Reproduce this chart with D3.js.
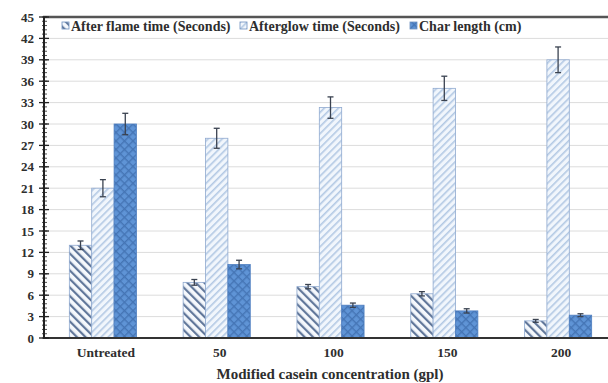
<!DOCTYPE html>
<html>
<head>
<meta charset="utf-8">
<script src="https://cdn.jsdelivr.net/npm/d3@7"></script>
<style>
  body { margin: 0; background: #fff; }
  text { font-family: "Liberation Serif", "Times New Roman", serif; font-weight: bold; fill: #2e2e2e; }
</style>
</head>
<body>
<div id="chart"></div>
<script>
const WIDTH = 608;
const HEIGHT = 383;

const categories = ['Untreated', '50', '100', '150', '200'];
const seriesNames = ['After flame time (Seconds)', 'Afterglow time (Seconds)', 'Char length (cm)'];
const afterFlame = [13, 7.8, 7.2, 6.2, 2.4];
const afterglow = [21, 28, 32.3, 35, 39];
const charLength = [30, 10.3, 4.6, 3.8, 3.2];
const afterFlameErr = [0.6, 0.4, 0.3, 0.3, 0.2];
const afterglowErr = [1.2, 1.4, 1.5, 1.7, 1.8];
const charLengthErr = [1.5, 0.6, 0.3, 0.3, 0.2];
const yTicks = d3.range(0, 46, 3);

const values = [afterFlame, afterglow, charLength];
const errors = [afterFlameErr, afterglowErr, charLengthErr];
const patternIds = ['pat-flame', 'pat-glow', 'pat-char'];

let svg = d3.select('#chart')
    .append('svg')
    .attr('width', WIDTH)
    .attr('height', HEIGHT);

// patterns
let defs = svg.append('defs');

let p1 = defs.append('pattern')
    .attr('id', 'pat-flame')
    .attr('patternUnits', 'userSpaceOnUse')
    .attr('width', 6).attr('height', 6)
    .attr('patternTransform', 'rotate(-45)');
p1.append('rect').attr('width', 6).attr('height', 6).attr('fill', '#f5f8fc');
p1.append('rect').attr('width', 2.2).attr('height', 6).attr('fill', '#61779a');

let p2 = defs.append('pattern')
    .attr('id', 'pat-glow')
    .attr('patternUnits', 'userSpaceOnUse')
    .attr('width', 5).attr('height', 5)
    .attr('patternTransform', 'rotate(45)');
p2.append('rect').attr('width', 5).attr('height', 5).attr('fill', '#f1f6fc');
p2.append('rect').attr('width', 1.6).attr('height', 5).attr('fill', '#b3c9e4');

let p3 = defs.append('pattern')
    .attr('id', 'pat-char')
    .attr('patternUnits', 'userSpaceOnUse')
    .attr('width', 6).attr('height', 6)
    .attr('patternTransform', 'rotate(45)');
p3.append('rect').attr('width', 6).attr('height', 6).attr('fill', '#5f94d6');
p3.append('rect').attr('width', 1.4).attr('height', 6).attr('fill', '#4575b5');
p3.append('rect').attr('width', 6).attr('height', 1.4).attr('fill', '#4575b5');

// scales
let x0 = d3.scaleBand()
    .domain(categories)
    .range([46, 615])
    .paddingInner(0.41)
    .paddingOuter(0.205);

let x1 = d3.scaleBand()
    .domain(d3.range(seriesNames.length))
    .range([0, x0.bandwidth()]);

let y = d3.scaleLinear().domain([0, 45]).range([338, 17]);

// grid
svg.append('g')
    .selectAll('line')
    .data(yTicks.filter(d => d > 0 && d < 45))
    .enter()
    .append('line')
    .attr('x1', 44).attr('x2', WIDTH)
    .attr('y1', d => y(d)).attr('y2', d => y(d))
    .attr('stroke', '#dcdcdc')
    .attr('stroke-width', 1);

// top border
svg.append('line')
    .attr('x1', 43).attr('x2', WIDTH)
    .attr('y1', y(45)).attr('y2', y(45))
    .attr('stroke', '#555')
    .attr('stroke-width', 2.5);

// bars
categories.forEach((c, i) => {
    let g = svg.append('g').attr('transform', `translate(${x0(c)},0)`);
    values.forEach((vals, s) => {
        let v = vals[i];
        let e = errors[s][i];
        let bx = x1(s);
        let bw = x1.bandwidth();
        g.append('rect')
            .attr('x', bx)
            .attr('y', y(v))
            .attr('width', bw)
            .attr('height', y(0) - y(v))
            .attr('fill', `url(#${patternIds[s]})`)
            .attr('stroke', s === 2 ? '#4f7fc0' : '#8fa9cf')
            .attr('stroke-width', 0.8);
        let cx = bx + bw / 2;
        g.append('line')
            .attr('x1', cx).attr('x2', cx)
            .attr('y1', y(v + e)).attr('y2', y(v - e))
            .attr('stroke', '#3a4250').attr('stroke-width', 1.3);
        [v + e, v - e].forEach(t => {
            g.append('line')
                .attr('x1', cx - 3).attr('x2', cx + 3)
                .attr('y1', y(t)).attr('y2', y(t))
                .attr('stroke', '#3a4250').attr('stroke-width', 1.3);
        });
    });
});

// x axis line
svg.append('line')
    .attr('x1', 43).attr('x2', WIDTH)
    .attr('y1', y(0)).attr('y2', y(0))
    .attr('stroke', '#333')
    .attr('stroke-width', 1.8);

// y axis with minor ticks
let yAxisG = svg.append('g');
yAxisG.append('line')
    .attr('x1', 44).attr('x2', 44)
    .attr('y1', y(45)).attr('y2', y(0))
    .attr('stroke', '#222').attr('stroke-width', 2);

yAxisG.selectAll('.minor')
    .data(d3.range(0, 45.01, 0.6))
    .enter()
    .append('line')
    .attr('x1', 42).attr('x2', 47)
    .attr('y1', d => y(d)).attr('y2', d => y(d))
    .attr('stroke', '#222').attr('stroke-width', 0.8);

yAxisG.selectAll('.major')
    .data(yTicks)
    .enter()
    .append('line')
    .attr('x1', 39).attr('x2', 49)
    .attr('y1', d => y(d)).attr('y2', d => y(d))
    .attr('stroke', '#222').attr('stroke-width', 1.3);

yAxisG.selectAll('text')
    .data(yTicks)
    .enter()
    .append('text')
    .attr('x', 34)
    .attr('y', d => y(d) + 4.5)
    .attr('text-anchor', 'end')
    .style('font-size', '13px')
    .text(d => d);

// x labels
svg.selectAll('.xlab')
    .data(categories)
    .enter()
    .append('text')
    .attr('x', d => x0(d) + x0.bandwidth() / 2 + 3)
    .attr('y', 357)
    .attr('text-anchor', 'middle')
    .style('font-size', '13.5px')
    .text(d => d);

svg.append('text')
    .attr('x', 330)
    .attr('y', 379)
    .attr('text-anchor', 'middle')
    .style('font-size', '15px')
    .text('Modified casein concentration (gpl)');

// legend
let legendX = [62, 240, 410];
seriesNames.forEach((name, s) => {
    let lg = svg.append('g').attr('transform', `translate(${legendX[s]}, 28)`);
    lg.append('rect')
        .attr('x', 0).attr('y', -6)
        .attr('width', 7).attr('height', 7)
        .attr('fill', `url(#${patternIds[s]})`)
        .attr('stroke', '#6d8fbf').attr('stroke-width', 0.8);
    lg.append('text')
        .attr('x', 9)
        .attr('y', 2.5)
        .style('font-size', '14px')
        .text(name);
});
</script>
</body>
</html>
